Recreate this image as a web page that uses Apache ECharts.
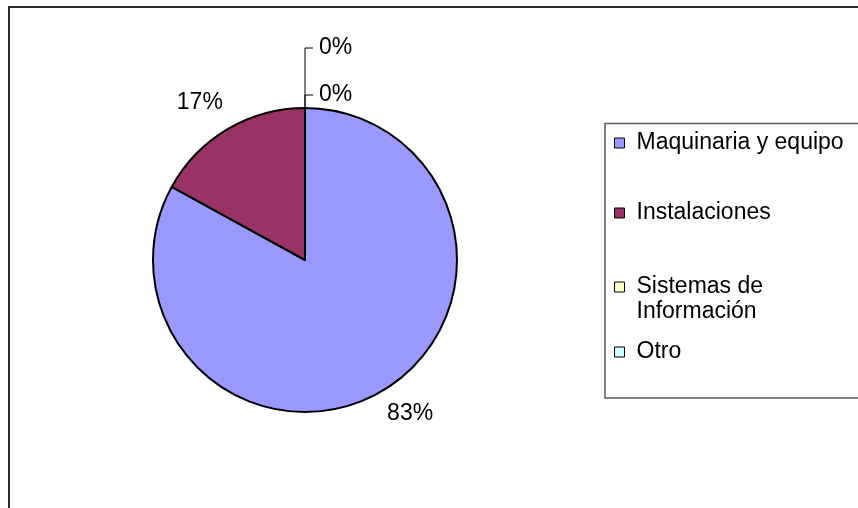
<!DOCTYPE html>
<html>
<head>
<meta charset="utf-8">
<script src="https://cdn.jsdelivr.net/npm/echarts@6/dist/echarts.min.js"></script>
<style>
  html, body { margin: 0; padding: 0; background: #ffffff; }
  #chart { width: 858px; height: 508px; }
</style>
</head>
<body>
<div id="chart"></div>
<script>
// Distribución de la inversión por rubro (porcentajes)
const categories = ['Maquinaria y equipo', 'Instalaciones', 'Sistemas de Información', 'Otro'];
const shares = [83, 17, 0, 0];
const sliceColors = ['#9999FF', '#993366', '#FFFFCC', '#CCFFFF'];

// Label leader geometry per slice (first / second segment lengths)
const leaderLen = [27, 31, 13, 60];
const leaderLen2 = [-15, -17, 8, 8];
// Vertical centres of the legend icons
const legendIconY = [143, 213, 287, 352];

const FONT = '"Liberation Sans", Arial, sans-serif';
const FS = 23;
const LH = 25;

const chart = echarts.init(document.getElementById('chart'), null, { renderer: 'canvas' });

const pieData = categories.map((name, i) => ({
  name: name,
  value: shares[i],
  itemStyle: { color: sliceColors[i] },
  labelLine: {
    show: shares[i] === 0,
    length: leaderLen[i],
    length2: leaderLen2[i]
  }
}));

const legends = categories.map((name, i) => {
  const twoLine = name.length > 20;
  return {
    data: [name],
    orient: 'vertical',
    left: 614,
    top: legendIconY[i] - (twoLine ? 1.5 * LH : LH / 2),
    padding: 0,
    icon: 'rect',
    itemWidth: 10,
    itemHeight: 10,
    selectedMode: false,
    itemStyle: { borderColor: '#000000', borderWidth: 1 },
    // long names wrap after "de"; an empty leading line keeps the first
    // line level with the icon
    formatter: n => (n.length > 20 ? '\n' + n.replace(' de ', ' de\n') : n),
    textStyle: {
      color: '#000000',
      fontFamily: FONT,
      fontSize: FS,
      lineHeight: LH,
      padding: [0, 0, 0, 7]
    }
  };
});

const option = {
  animation: false,
  backgroundColor: '#ffffff',
  graphic: [
    {
      type: 'rect',
      shape: { x: 9, y: 7, width: 1000, height: 700 },
      style: { fill: null, stroke: '#2b2b2b', lineWidth: 2 },
      silent: true
    },
    {
      type: 'rect',
      shape: { x: 605, y: 123.5, width: 400, height: 274.5 },
      style: { fill: null, stroke: '#5a5a5a', lineWidth: 1.5 },
      silent: true
    }
  ],
  legend: legends,
  series: [{
    type: 'pie',
    center: [305, 260],
    radius: 152,
    // a hair under 90 so the empty slices at 12 o'clock put their labels on the right
    startAngle: 89.999,
    clockwise: true,
    avoidLabelOverlap: false,
    emphasis: { disabled: true },
    itemStyle: { borderColor: '#000000', borderWidth: 2 },
    label: {
      show: true,
      position: 'outside',
      formatter: p => Math.round(p.percent) + '%',
      color: '#000000',
      fontFamily: FONT,
      fontSize: FS,
      distanceToLabelLine: 6
    },
    labelLine: {
      lineStyle: { color: '#000000', width: 1 }
    },
    data: pieData
  }]
};

chart.setOption(option);
</script>
</body>
</html>
